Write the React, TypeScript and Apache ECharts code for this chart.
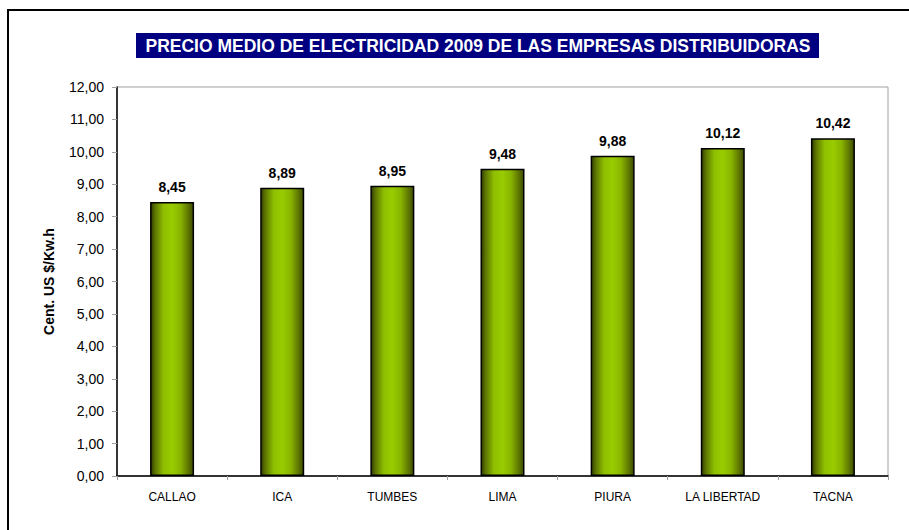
import React, { useEffect, useRef } from "react";
import * as echarts from "echarts";

const categories = ["CALLAO", "ICA", "TUMBES", "LIMA", "PIURA", "LA LIBERTAD", "TACNA"];
const values = [8.45, 8.89, 8.95, 9.48, 9.88, 10.12, 10.42];
const titleText = "PRECIO MEDIO DE ELECTRICIDAD 2009 DE LAS EMPRESAS DISTRIBUIDORAS";
const yAxisName = "Cent. US $/Kw.h";

const fmt = (v: number) => v.toFixed(2).replace(".", ",");

export default function App() {
  const ref = useRef<HTMLDivElement>(null);
  useEffect(() => {
    if (!ref.current) return;
    const chart = echarts.init(ref.current, null, { renderer: "svg" });
    chart.setOption({
      animation: false,
      backgroundColor: "#fff",
      textStyle: { fontFamily: "Liberation Sans, Arial, sans-serif" },
      graphic: [
        {
          type: "rect",
          shape: { x: 8, y: 10, width: 1000, height: 600 },
          style: { fill: "none", stroke: "#000", lineWidth: 2 },
          z: 0,
        },
        {
          type: "rect",
          shape: { x: 136, y: 33, width: 683, height: 25 },
          style: { fill: "#000080" },
          z: 1,
        },
        {
          type: "text",
          x: 478,
          y: 46,
          style: {
            text: titleText,
            fill: "#fff",
            font: "bold 17.5px 'Liberation Sans', Arial, sans-serif",
            textAlign: "center",
            textVerticalAlign: "middle",
          },
          z: 2,
        },
      ],
      grid: {
        left: 117,
        top: 87,
        right: 909 - 888,
        bottom: 530 - 476,
        show: true,
        borderColor: "#a0a0a0",
        borderWidth: 1,
        backgroundColor: "transparent",
      },
      xAxis: {
        type: "category",
        data: categories,
        axisLine: { lineStyle: { color: "#000", width: 1.5 } },
        axisTick: { show: true, length: 4, lineStyle: { color: "#a0a0a0" } },
        axisLabel: { color: "#000", fontSize: 12, margin: 15 },
      },
      yAxis: {
        type: "value",
        min: 0,
        max: 12,
        interval: 1,
        name: yAxisName,
        nameLocation: "middle",
        nameGap: 61,
        nameTextStyle: { color: "#000", fontSize: 14, fontWeight: "bold" },
        axisLine: { show: true, lineStyle: { color: "#000", width: 1.5 } },
        axisTick: { show: true, length: 5, lineStyle: { color: "#a0a0a0" } },
        splitLine: { show: false },
        axisLabel: { color: "#000", fontSize: 14, margin: 13, formatter: (v: number) => fmt(v) },
      },
      series: [
        {
          type: "bar",
          data: values,
          barWidth: 44,
          itemStyle: {
            borderColor: "#000",
            borderWidth: 1.5,
            color: new echarts.graphic.LinearGradient(0, 0, 1, 0, [
              { offset: 0, color: "#303c00" },
              { offset: 0.1, color: "#5c7400" },
              { offset: 0.3, color: "#8fbf00" },
              { offset: 0.5, color: "#99cc00" },
              { offset: 0.7, color: "#88b400" },
              { offset: 0.9, color: "#5a7000" },
              { offset: 1, color: "#3a4800" },
            ]),
          },
          label: {
            show: true,
            position: "top",
            distance: 8,
            color: "#000",
            fontSize: 14,
            fontWeight: "bold",
            formatter: (p: any) => fmt(p.value),
          },
        },
      ],
    });
    return () => chart.dispose();
  }, []);
  return (
    <div
      ref={ref}
      style={{ position: "fixed", left: 0, top: 0, width: 909, height: 530 }}
    />
  );
}
